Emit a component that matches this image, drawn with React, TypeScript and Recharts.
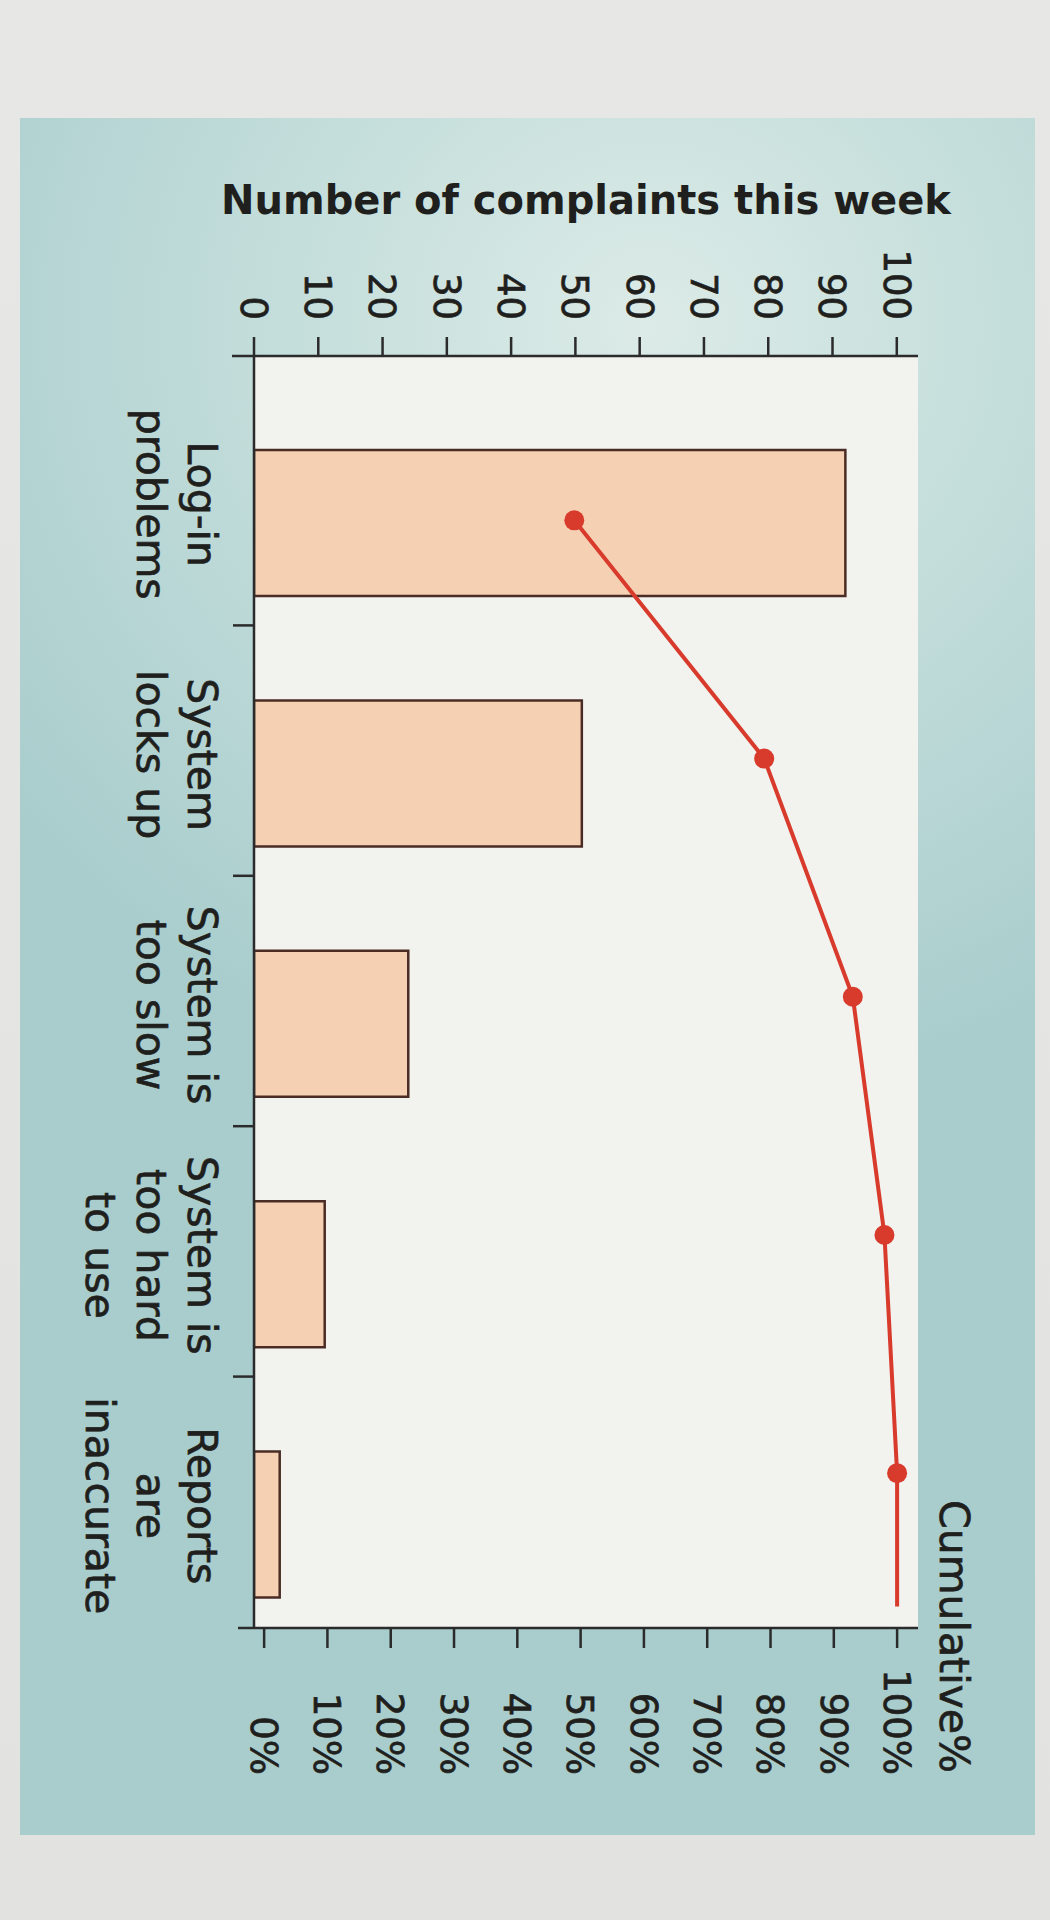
import React from 'react';
import {
  ComposedChart,
  Bar,
  Line,
  XAxis,
  YAxis,
  CartesianGrid,
  ReferenceLine,
  Label,
} from 'recharts';

// ---------- data ----------
const categories = [
  'Log-in\nproblems',
  'System\nlocks up',
  'System is\ntoo slow',
  'System is\ntoo hard\nto use',
  'Reports\nare\ninaccurate',
];
const complaints = [92, 51, 24, 11, 4];
const cumulativePct = [49, 79, 93, 98, 100];
const linePositions = [0, 1, 2, 3, 4];
const tailEndPosition = 4.56;
const countTicks = [0, 10, 20, 30, 40, 50, 60, 70, 80, 90, 100];
const pctTicks = [0, 10, 20, 30, 40, 50, 60, 70, 80, 90, 100];

const barData = categories.map((name, i) => ({ name, complaints: complaints[i] }));
const lineData = linePositions.map((pos, i) => ({ pos, cumulative: cumulativePct[i] }));

// ---------- style / layout ----------
const FONT = '"DejaVu Sans", sans-serif';
const TEXT = '#1f1f1d';
const AXIS = '#2b2b2b';
const RED = '#d83a2c';
const CHART_W = 1920; // upright width (screen height)
const CHART_H = 1050; // upright height (screen width)
const MARGIN = { top: 132, right: 145, bottom: 104, left: 256 };
const LEFT_AXIS_W = 100;
const RIGHT_AXIS_W = 147;
const PLOT_LEFT = MARGIN.left + LEFT_AXIS_W;
const PLOT_RIGHT = CHART_W - MARGIN.right - RIGHT_AXIS_W;
const TEXT_STROKE = { stroke: TEXT, strokeWidth: 0.7 };

const CategoryTick = (props: any) => {
  const { x, y, payload, index } = props;
  const half = payload && payload.offset ? payload.offset : 125;
  const lines = String(payload.value).split('\n');
  const lx = x - 19;
  const n = categories.length;
  return (
    <g>
      <text
        x={lx}
        y={y + 66}
        textAnchor="middle"
        fontSize={41}
        fontFamily={FONT}
        fill={TEXT}
        {...TEXT_STROKE}
      >
        {lines.map((l: string, i: number) => (
          <tspan key={i} x={lx} dy={i === 0 ? 0 : 51}>
            {l}
          </tspan>
        ))}
      </text>
      {index < n - 1 && (
        <line
          x1={x + half - 23}
          x2={x + half - 23}
          y1={y}
          y2={y + 21}
          stroke={AXIS}
          strokeWidth={2.5}
        />
      )}
      {index === 0 && (
        <line x1={PLOT_LEFT} x2={PLOT_LEFT} y1={y} y2={y + 22} stroke={AXIS} strokeWidth={2.5} />
      )}
      {index === n - 1 && (
        <line x1={PLOT_RIGHT} x2={PLOT_RIGHT} y1={y} y2={y + 16} stroke={AXIS} strokeWidth={2.5} />
      )}
    </g>
  );
};

const PctTick = (props: any) => {
  const { x, y, payload } = props;
  return (
    <text
      x={x + 127}
      y={y}
      dy="0.36em"
      textAnchor="end"
      fontSize={37}
      fontFamily={FONT}
      fill={TEXT}
      {...TEXT_STROKE}
    >
      {payload.value}%
    </text>
  );
};

const CumLabel = (props: any) => {
  const vb = props.viewBox || {};
  return (
    <text
      x={vb.x + vb.width - 2}
      y={vb.y - 22}
      textAnchor="end"
      fontSize={41}
      fontFamily={FONT}
      fill={TEXT}
      {...TEXT_STROKE}
    >
      Cumulative%
    </text>
  );
};

export default function App() {
  return (
    <div
      style={{
        position: 'absolute',
        left: 0,
        top: 0,
        width: 1050,
        height: 1920,
        overflow: 'hidden',
        background: 'linear-gradient(180deg, #e7e7e5 0%, #e2e2e0 100%)',
      }}
    >
      <div
        style={{
          position: 'absolute',
          left: 20,
          top: 118,
          width: 1015,
          height: 1717,
          background:
            'radial-gradient(ellipse 80% 45% at 62% 12%, #dcebe7 0%, #c4dedb 45%, #a9cdcd 100%)',
        }}
      />
      <svg
        width={1050}
        height={260}
        style={{ position: 'absolute', left: 0, top: 0 }}
      >
        <text
          x={221}
          y={214}
          fontSize={40}
          fontWeight="bold"
          fontFamily={FONT}
          fill={TEXT}
        >
          Number of complaints this week
        </text>
      </svg>
      <div
        style={{
          position: 'absolute',
          left: 0,
          top: 0,
          width: CHART_W,
          height: CHART_H,
          transformOrigin: '0 0',
          transform: 'translate(1050px, 0) rotate(90deg)',
        }}
      >
        <ComposedChart width={CHART_W} height={CHART_H} data={barData} margin={MARGIN}>
          <CartesianGrid
            xAxisId="cat"
            yAxisId="count"
            horizontal={false}
            vertical={false}
            fill="#f2f2ef"
            stroke="none"
          />
          <XAxis
            xAxisId="cat"
            dataKey="name"
            type="category"
            orientation="bottom"
            height={150}
            padding={{ left: 42, right: -22 }}
            interval={0}
            tickLine={false}
            tickSize={0}
            tickMargin={0}
            axisLine={{ stroke: AXIS, strokeWidth: 2.5 }}
            tick={<CategoryTick />}
          />
          <XAxis
            xAxisId="pos"
            dataKey="pos"
            type="number"
            orientation="top"
            domain={[-0.69, 4.65]}
            allowDataOverflow
            height={0}
            tick={false}
            tickLine={false}
            axisLine={{ stroke: '#4a4a48', strokeWidth: 2.5 }}
          />
          <YAxis
            yAxisId="count"
            orientation="left"
            type="number"
            width={LEFT_AXIS_W}
            domain={[0, 103.3]}
            allowDataOverflow
            ticks={countTicks}
            interval={0}
            tickSize={19}
            tickMargin={17}
            tickLine={{ stroke: AXIS, strokeWidth: 2.5 }}
            axisLine={{ stroke: AXIS, strokeWidth: 2.5 }}
            tick={{ fontSize: 37, fontFamily: FONT, fill: TEXT, stroke: TEXT, strokeWidth: 0.7 }}
          />
          <YAxis
            yAxisId="pct"
            orientation="right"
            type="number"
            width={RIGHT_AXIS_W}
            domain={[-1.6, 103.3]}
            allowDataOverflow
            ticks={pctTicks}
            interval={0}
            tickSize={20}
            tickMargin={0}
            tickLine={{ stroke: AXIS, strokeWidth: 2.5 }}
            axisLine={{ stroke: AXIS, strokeWidth: 2.5 }}
            tick={<PctTick />}
          >
            <Label content={<CumLabel />} />
          </YAxis>
          <Bar
            xAxisId="cat"
            yAxisId="count"
            dataKey="complaints"
            barSize={146}
            fill="#f5d0b3"
            stroke="#4a2c24"
            strokeWidth={2.5}
            isAnimationActive={false}
          />
          <ReferenceLine
            xAxisId="pos"
            yAxisId="pct"
            segment={[
              { x: linePositions[linePositions.length - 1], y: cumulativePct[cumulativePct.length - 1] },
              { x: tailEndPosition, y: cumulativePct[cumulativePct.length - 1] },
            ]}
            stroke={RED}
            strokeWidth={4}
          />
          <Line
            xAxisId="pos"
            yAxisId="pct"
            data={lineData}
            dataKey="cumulative"
            type="linear"
            stroke={RED}
            strokeWidth={4}
            dot={{ r: 10, fill: RED, stroke: RED, strokeWidth: 0 }}
            activeDot={false}
            isAnimationActive={false}
          />
        </ComposedChart>
      </div>
    </div>
  );
}
